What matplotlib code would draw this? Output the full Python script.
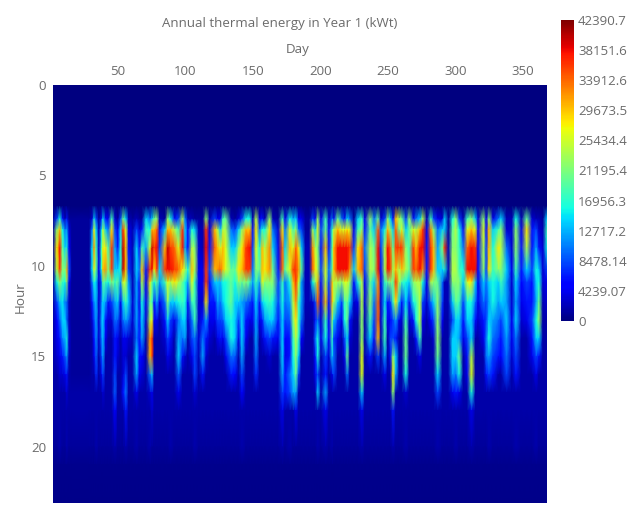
import numpy as np
import matplotlib
matplotlib.use('Agg')
import matplotlib.pyplot as plt

plt.rcParams['font.family'] = ['Open Sans', 'DejaVu Sans']

# values, in thousands of kWt
hours = [0, 6.7, 7.4, 8, 9, 10.2, 10.9, 12, 13, 14, 15, 16, 17, 18, 20, 21, 23.1]
day_ticks = [50, 100, 150, 200, 250, 300, 350]
hour_ticks = [0, 5, 10, 15, 20]
bar_ticks = [0, 4239.07, 8478.14, 12717.2, 16956.3, 21195.4, 25434.4, 29673.5, 33912.6, 38151.6, 42390.7]
bar_labels = ['0', '4239.07', '8478.14', '12717.2', '16956.3', '21195.4', '25434.4', '29673.5', '33912.6', '38151.6', '42390.7']

days = [0, 3, 5, 7, 9, 10, 12, 14, 27, 29, 30.5, 32, 34, 36, 37, 39, 41, 43.5, 46, 48, 50, 52, 54, 56, 59,
        62, 64, 66, 69, 72, 73.5, 75, 77, 79, 83, 85, 87, 90, 93, 96, 98, 100, 103, 105, 108, 111, 113.5, 116,
        120, 122, 124, 126, 128, 132, 135, 137.5, 140, 143, 146, 148, 150.5, 153, 155, 157, 160.5, 163, 167,
        170, 172, 175.5, 178, 180, 182, 184, 187, 190, 192.5, 194.4, 196, 198.6, 202, 204.5, 207, 208, 211, 214, 216, 218, 220,
        223, 226, 229, 231, 235, 238, 241, 243, 246, 248, 250, 252, 254, 256.5, 258.5, 261.5, 264, 267, 269, 272, 274,
        277, 280, 282, 285, 288.5, 290, 293, 296, 298.5, 301, 304, 307, 310, 313, 315, 319, 321, 323, 326, 330, 332, 336,
        340, 343, 347, 351, 355, 358, 360, 363, 366]

# days whose faint streak still shows at hour 20
faint_days = [5, 10, 32, 46, 54, 62, 72, 87, 105, 140, 170, 175.5, 196, 202, 207, 229, 252, 261.5, 285, 298.5, 310, 323, 343, 358]

# one profile per day above, rows 7 to 18 (short ones stay at the low level after)
profiles = [
    [1, 1, 1, 1, 1],
    [8, 22, 28, 25, 16, 8, 5, 4, 3],
    [16, 30, 38, 36, 22, 13, 9, 6, 4, 3],
    [6, 16, 20, 22, 18, 15, 14, 11, 6, 3],
    [2, 10, 14, 22, 16, 10, 14, 13, 9, 4],
    [6, 12, 16, 30, 22, 10, 10, 16, 12, 6, 3],
    [1, 3, 4, 8, 4, 2, 2, 3, 2],
    [1, 1, 1, 1, 1, 1, 1, 1, 1, 1],
    [1, 1, 1, 1, 1, 1, 1, 1, 1, 1],
    [3, 10, 14, 14, 10, 6, 3],
    [14, 26, 32, 26, 16, 11, 8, 6, 4],
    [8, 14, 18, 20, 14, 13, 12, 11, 9, 7],
    [1, 2, 3, 4, 3, 3, 3, 3],
    [6, 14, 18, 16, 9, 10, 12, 10, 8, 4],
    [14, 24, 26, 30, 20, 14, 14, 13, 12, 8, 3],
    [6, 14, 28, 32, 18, 12, 6, 4],
    [4, 10, 18, 22, 16, 6, 3],
    [18, 28, 36, 36, 22, 8, 3],
    [3, 8, 12, 14, 18, 12, 10, 6, 6, 8, 9, 5],
    [1, 4, 6, 14, 20, 14, 9, 4, 3],
    [8, 14, 16, 16, 12, 4, 3],
    [20, 36, 40, 40, 26, 14, 10, 4, 3, 3, 6],
    [14, 26, 30, 30, 24, 18, 12, 4, 3, 8, 10, 6],
    [2, 4, 6, 8, 12, 14, 10, 3],
    [1, 2, 2, 2, 2, 3, 3, 2],
    [2, 8, 14, 14, 12, 12, 12, 10, 14, 12, 4],
    [1, 3, 6, 10, 6, 4, 6, 6, 6, 4],
    [1, 6, 18, 30, 24, 16, 14, 12, 5, 3],
    [14, 18, 12, 6, 4, 4, 3],
    [10, 16, 26, 36, 28, 20, 24, 32, 30, 10, 3],
    [14, 30, 40, 38, 20, 18, 26, 36, 36, 14, 4, 3],
    [20, 30, 36, 28, 16, 6, 4],
    [22, 34, 38, 36, 20, 12, 4],
    [2, 6, 8, 14, 12, 4],
    [1, 14, 30, 36, 18, 10, 6, 3],
    [22, 30, 40, 38, 26, 22, 14, 8, 4],
    [16, 30, 36, 38, 24, 14, 8, 6, 3],
    [6, 24, 34, 36, 28, 14, 4],
    [8, 18, 26, 34, 24, 16, 10, 12, 14, 9, 4],
    [24, 36, 38, 28, 20, 18, 14, 10, 6],
    [10, 14, 12, 24, 16, 16, 14, 12, 3],
    [2, 6, 6, 16, 12, 6, 3],
    [2, 16, 24, 30, 26, 18, 10, 8, 4],
    [1, 14, 22, 24, 18, 18, 18, 10, 8, 8, 3],
    [1, 2, 3, 4, 4, 3, 3, 3, 2],
    [1, 2, 2, 4, 4, 3, 6, 10, 12, 6],
    [22, 36, 38, 36, 36, 28, 12, 6, 3],
    [2, 4, 6, 8, 6, 6, 4, 3],
    [8, 30, 34, 30, 14, 6, 4],
    [4, 24, 30, 32, 14, 12, 8, 4],
    [4, 14, 26, 34, 13, 10, 8, 6],
    [18, 24, 30, 30, 16, 14, 9, 4],
    [20, 24, 26, 26, 16, 16, 14, 8, 4],
    [2, 10, 14, 20, 20, 20, 16, 16, 10, 6],
    [1, 8, 14, 20, 16, 14, 14, 14, 9, 5],
    [3, 14, 22, 28, 22, 14, 8, 4],
    [8, 22, 28, 30, 20, 12, 14, 14, 12, 8, 5],
    [16, 30, 36, 36, 22, 10, 6, 4],
    [16, 30, 38, 36, 18, 8, 4],
    [2, 6, 8, 10, 12, 6, 4],
    [24, 28, 26, 22, 18, 14, 12, 12, 10, 7],
    [4, 10, 16, 20, 12, 6, 4],
    [6, 16, 30, 30, 26, 14, 6, 3],
    [2, 16, 24, 28, 22, 16, 12, 6],
    [22, 28, 32, 32, 22, 18, 14, 8, 3],
    [2, 10, 14, 20, 22, 16, 14, 6],
    [1, 3, 4, 6, 8, 8, 6, 4],
    [18, 28, 34, 34, 18, 16, 14, 14, 14, 12, 8, 4],
    [4, 10, 14, 20, 10, 10, 8, 5, 4, 6, 6],
    [16, 26, 30, 26, 16, 12, 9, 6, 6, 10, 8],
    [12, 18, 26, 36, 30, 24, 22, 18, 16, 14, 12],
    [14, 22, 34, 36, 36, 32, 28, 24, 22, 20, 12, 4],
    [4, 10, 28, 32, 26, 18, 18, 18, 14, 8],
    [4, 8, 14, 20, 12, 12, 10, 5],
    [1, 1, 2, 2, 2, 2],
    [1, 1, 2, 2, 2, 2],
    [8, 22, 32, 34, 16, 3],
    [4, 14, 24, 28, 22, 8, 6, 10, 6, 4],
    [22, 26, 22, 24, 30, 34, 10, 16, 16, 8, 14],
    [4, 8, 6, 8, 6, 4, 3, 4],
    [18, 20, 30, 26, 24, 30, 18, 16, 8, 6, 12, 4],
    [3, 6, 6, 10, 8, 6, 5, 5, 3],
    [10, 18, 20, 20, 30, 30, 22, 18, 14, 4],
    [6, 24, 30, 30, 24, 24, 14, 8, 10, 8],
    [20, 30, 38, 38, 24, 14, 8, 4],
    [10, 26, 38, 38, 22, 8, 4],
    [6, 26, 38, 38, 26, 18, 16, 8, 4],
    [14, 28, 38, 38, 26, 20, 20, 14, 20, 10],
    [10, 26, 36, 32, 22, 14, 6, 3],
    [1, 4, 8, 14, 6, 3],
    [14, 18, 28, 30, 16, 4],
    [18, 22, 34, 34, 24, 24, 22, 22, 26, 26, 14, 4],
    [4, 6, 10, 8, 4, 3],
    [22, 20, 24, 24, 20, 22, 18, 14, 6],
    [10, 14, 20, 22, 14, 10, 8, 6],
    [20, 34, 38, 38, 32, 34, 34, 30, 8],
    [3, 10, 8, 6, 4, 3, 3],
    [8, 16, 24, 24, 18, 14, 18, 18, 12, 4],
    [22, 30, 38, 38, 20, 6, 4],
    [14, 22, 34, 36, 22, 8, 5, 8, 6],
    [6, 14, 20, 24, 20, 18, 8, 8, 22, 28, 22, 6],
    [30, 34, 36, 30, 36, 28, 12, 6, 14, 12],
    [24, 20, 36, 24, 24, 14, 4],
    [20, 26, 36, 30, 18, 6, 3],
    [8, 14, 22, 24, 16, 14, 18, 20, 20, 16, 3],
    [22, 20, 18, 20, 14, 6, 3],
    [6, 26, 36, 36, 22, 16, 6],
    [10, 24, 30, 34, 24, 18, 16, 6],
    [14, 30, 38, 38, 24, 24, 24, 18, 4],
    [24, 36, 38, 32, 16, 8, 4],
    [2, 4, 6, 6, 4, 3],
    [18, 32, 36, 36, 24, 10, 5],
    [8, 22, 30, 30, 22, 14, 8, 3],
    [4, 10, 12, 14, 20, 22, 22, 22, 20, 14, 8],
    [3, 14, 22, 14, 10, 8, 5],
    [14, 14, 36, 16, 2, 2],
    [1, 1, 2, 2, 2, 2],
    [16, 20, 22, 24, 22, 14, 8, 14, 14, 12, 4],
    [22, 24, 22, 24, 22, 20, 14, 14, 14, 10, 6],
    [8, 16, 18, 18, 22, 18, 14, 12, 20, 16, 4],
    [2, 6, 10, 16, 14, 8, 6, 4],
    [18, 26, 34, 38, 26, 16, 14, 8, 6, 4],
    [22, 30, 38, 38, 28, 16, 14, 14, 24, 26, 16, 4],
    [14, 26, 36, 38, 14, 10, 6],
    [3, 5, 5, 5, 4, 4, 3],
    [22, 26, 24, 22, 14, 10, 6, 4],
    [4, 6, 8, 8, 10, 8, 8, 10, 10, 6],
    [22, 30, 30, 28, 14, 12, 14, 16, 12, 8],
    [4, 14, 16, 18, 16, 16, 12, 10, 8, 6],
    [10, 18, 28, 22, 14, 12, 10, 8, 6],
    [14, 22, 24, 22, 18, 14, 8, 6, 5],
    [2, 3, 10, 14, 12, 12, 14, 12, 10, 8],
    [2, 3, 3, 4, 3, 3, 4, 4, 3],
    [16, 22, 22, 18, 14, 12, 14, 10, 8, 6],
    [2, 4, 6, 6, 5, 4, 3],
    [20, 28, 24, 14, 8, 6, 4],
    [3, 6, 6, 8, 6, 6, 8, 6, 4],
    [2, 8, 12, 16, 14, 12, 16, 14, 8, 4],
    [2, 3, 6, 14, 16, 20, 22, 14, 6],
    [1, 2, 3, 3, 3, 2],
    [14, 18, 16, 8, 4, 3],
]

low_level = 1.5
energy = []
for d, p in zip(days, profiles):
    late = 1.8 if d in faint_days else 1.0
    row = [0, 0] + p + [low_level] * (12 - len(p)) + [late, 0.6, 0.4]
    energy.append(row)
energy = np.array(energy, dtype=float).T * 1000
# the day labels sit about 2 days left of where the plot's edge would put them
day_pos = np.array(days) + 1.8

grey = '#6b6b6b'
fig = plt.figure(figsize=(6.4, 5.05), dpi=100)
ax = fig.add_axes([53 / 640, 1 - 503 / 505, 494 / 640, 418 / 505])
mesh = ax.pcolormesh(day_pos, hours, energy, cmap='jet', vmin=0, vmax=42390.7, shading='gouraud')
ax.set_xlim(1.8, 367.8)
ax.set_ylim(23.1, 0)
ax.xaxis.tick_top()
ax.set_xticks(day_ticks)
ax.set_yticks(hour_ticks)
ax.tick_params(length=0, labelsize=9.5, labelcolor=grey, pad=5)
for s in ax.spines.values():
    s.set_visible(False)

cax = fig.add_axes([561 / 640, 1 - 321 / 505, 13 / 640, 301 / 505])
bar = fig.colorbar(mesh, cax=cax, ticks=bar_ticks)
bar.ax.set_yticklabels(bar_labels)
bar.ax.tick_params(length=0, labelsize=9.5, labelcolor=grey, pad=3)
bar.outline.set_visible(False)

fig.text(280 / 640, 1 - 23 / 505, 'Annual thermal energy in Year 1 (kWt)', ha='center', va='center', color=grey, fontsize=9.5)
fig.text(298 / 640, 1 - 49 / 505, 'Day', ha='center', va='center', color=grey, fontsize=9.6)
fig.text(20 / 640, 1 - 297 / 505, 'Hour', ha='center', va='center', rotation=90, color=grey, fontsize=9.6)

fig.savefig('out.png', dpi=100)
